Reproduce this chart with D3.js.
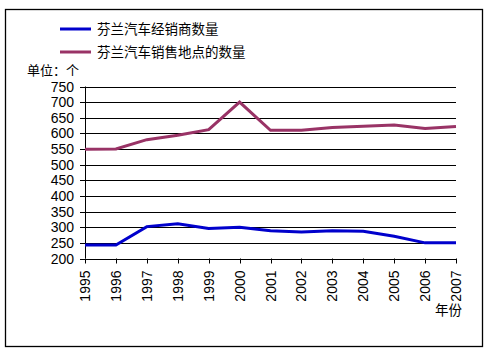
<!DOCTYPE html>
<html>
<head>
<meta charset="utf-8">
<script src="https://cdn.jsdelivr.net/npm/d3@7"></script>
<style>
  body { margin: 0; background: #fff; }
  svg text { font-family: "Liberation Sans", Arial, "Noto Sans CJK SC", sans-serif; }
  .cjk { font-family: "Noto Sans CJK SC", sans-serif; }
</style>
</head>
<body>
<script>
// data
const years = [1995, 1996, 1997, 1998, 1999, 2000, 2001, 2002, 2003, 2004, 2005, 2006, 2007];
const dealers = [243, 243, 302, 311, 296, 300, 289, 285, 289, 287, 271, 250, 250];
const outlets = [549, 550, 580, 594, 612, 700, 610, 610, 619, 623, 627, 616, 622];
const yTicks = [200, 250, 300, 350, 400, 450, 500, 550, 600, 650, 700, 750];
const seriesNames = ['芬兰汽车经销商数量', '芬兰汽车销售地点的数量'];
const colors = ['#0000cc', '#993366'];

const width = 488, height = 352;
const svg = d3.select('body').append('svg')
    .attr('width', width).attr('height', height);

// outer frame
svg.append('rect')
    .attr('x', 5.5).attr('y', 9.5)
    .attr('width', 477).attr('height', 337)
    .attr('fill', 'none').attr('stroke', '#000').attr('stroke-width', 1.3);

const x = d3.scalePoint().domain(years).range([85, 456]);
const y = d3.scaleLinear().domain([200, 750]).range([258.5, 86.5]);

// gridlines
svg.append('g')
    .selectAll('line')
    .data(yTicks)
    .join('line')
    .attr('x1', 80).attr('x2', 456)
    .attr('y1', d => Math.round(y(d)) + 0.5).attr('y2', d => Math.round(y(d)) + 0.5)
    .attr('stroke', '#000');

// y axis
svg.append('line')
    .attr('x1', 85.5).attr('x2', 85.5)
    .attr('y1', y(750)).attr('y2', y(200))
    .attr('stroke', '#000');

svg.append('g')
    .selectAll('text')
    .data(yTicks)
    .join('text')
    .attr('x', 74)
    .attr('y', d => y(d))
    .attr('dy', '0.36em')
    .attr('text-anchor', 'end')
    .attr('font-size', 14)
    .text(d => d);

// x ticks
svg.append('g')
    .selectAll('line')
    .data(years)
    .join('line')
    .attr('x1', d => Math.round(x(d)) + 0.5).attr('x2', d => Math.round(x(d)) + 0.5)
    .attr('y1', y(200)).attr('y2', y(200) + 5)
    .attr('stroke', '#000');

svg.append('g')
    .selectAll('text')
    .data(years)
    .join('text')
    .attr('transform', d => `translate(${x(d)},${y(200) + 12}) rotate(-90)`)
    .attr('dy', '0.36em')
    .attr('text-anchor', 'end')
    .attr('font-size', 14)
    .text(d => d);

// lines
const line = d3.line().x((d, i) => x(years[i])).y(d => y(d));
[dealers, outlets].forEach((s, i) => {
  svg.append('path')
      .datum(s)
      .attr('d', line)
      .attr('fill', 'none')
      .attr('stroke', colors[i])
      .attr('stroke-width', 3);
});

// legend
seriesNames.forEach((name, i) => {
  const ly = 29 + i * 23;
  svg.append('line')
      .attr('x1', 60).attr('x2', 91)
      .attr('y1', ly).attr('y2', ly)
      .attr('stroke', colors[i]).attr('stroke-width', 3);
  svg.append('text')
      .attr('class', 'cjk')
      .attr('x', 97).attr('y', ly)
      .attr('dy', '0.36em')
      .attr('font-size', 13.5)
      .text(name);
});

svg.append('text')
    .attr('class', 'cjk')
    .attr('x', 27).attr('y', 70)
    .attr('dy', '0.36em')
    .attr('font-size', 13)
    .text('单位：个');

svg.append('text')
    .attr('class', 'cjk')
    .attr('x', 462).attr('y', 310)
    .attr('dy', '0.36em')
    .attr('text-anchor', 'end')
    .attr('font-size', 13.5)
    .text('年份');
</script>
</body>
</html>
